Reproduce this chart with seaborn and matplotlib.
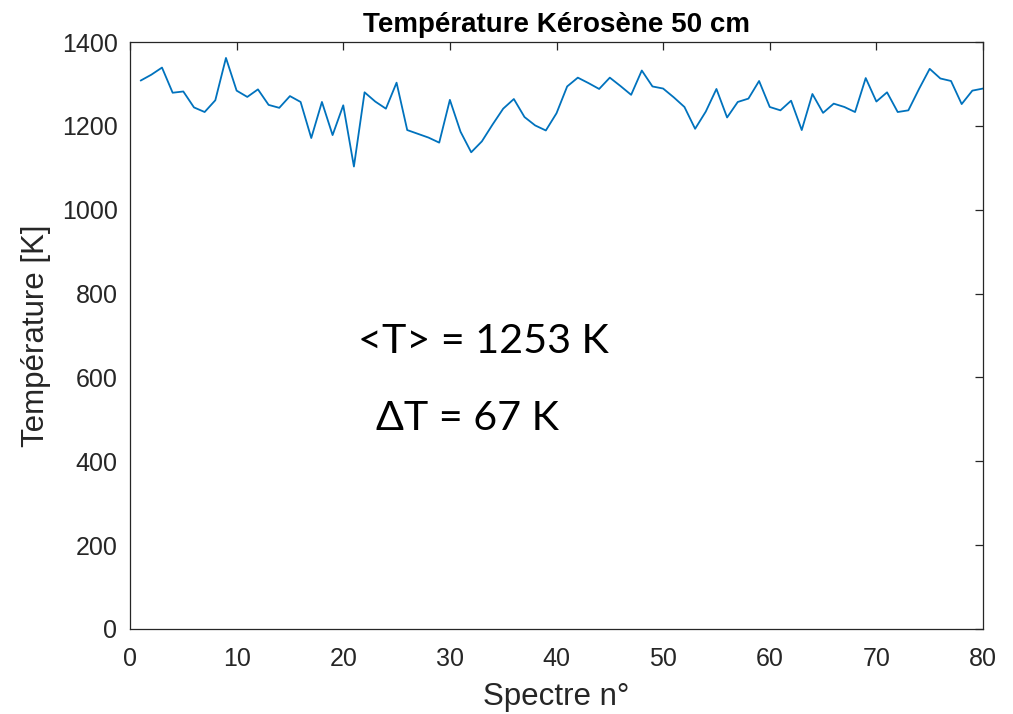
import matplotlib
matplotlib.use("Agg")
import matplotlib.pyplot as plt
import seaborn as sns
import pandas as pd
import numpy as np

spectre = list(range(1, 81))
temperature = [
    1308, 1322, 1339, 1279, 1282, 1244, 1233, 1261, 1362, 1284,
    1269, 1287, 1250, 1243, 1271, 1257, 1171, 1257, 1178, 1249,
    1103, 1280, 1258, 1241, 1303, 1190, 1181, 1172, 1160, 1262,
    1186, 1137, 1163, 1203, 1241, 1264, 1221, 1201, 1189, 1230,
    1294, 1315, 1302, 1288, 1315, 1295, 1274, 1332, 1294, 1289,
    1268, 1245, 1193, 1234, 1288, 1220, 1257, 1265, 1307, 1245,
    1237, 1260, 1190, 1276, 1231, 1253, 1245, 1233, 1314, 1258,
    1280, 1233, 1237, 1288, 1336, 1313, 1307, 1252, 1284, 1289,
]
xticks = [0, 10, 20, 30, 40, 50, 60, 70, 80]
yticks = [0, 200, 400, 600, 800, 1000, 1200, 1400]
title = "Température Kérosène 50 cm"
xlabel = "Spectre n°"
ylabel = "Température [K]"
ann_mean = "<T> = 1253 K"
ann_delta = "\u0394T = 67 K"

sns.set_style("white")
plt.rcParams['font.family'] = ['Liberation Sans', 'DejaVu Sans']

df = pd.DataFrame({"Spectre": spectre, "T": temperature})

fig = plt.figure(figsize=(10.13, 7.14), dpi=100)
ax = fig.add_axes([130/1013, 1 - 629/714, (983-130)/1013, (629-42)/714])
sns.lineplot(data=df, x="Spectre", y="T", ax=ax, color="#0072BD", linewidth=1.3)

ax.set_xlim(0, 80)
ax.set_ylim(0, 1400)
ax.set_xticks(xticks)
ax.set_yticks(yticks)
ax.tick_params(direction="in", length=6, width=0.9, colors="#262626",
               labelsize=18, top=True, right=True,
               labelcolor="#262626")
ax.tick_params(axis="x", pad=13)
ax.tick_params(axis="y", pad=9)
for s in ax.spines.values():
    s.set_color("#262626")
    s.set_linewidth(0.9)
ax.set_xlabel(xlabel, fontsize=22.5, color="#262626", labelpad=8)
ax.set_ylabel(ylabel, fontsize=22.5, color="#262626", labelpad=8)
ax.set_title(title, fontsize=20, fontweight="bold", color="black", pad=7)

ax.text(21.4, 659, ann_mean, fontsize=29.7, family=['Lato', 'DejaVu Sans'],
        color="black", va="baseline", ha="left")
ax.text(23.1, 475, ann_delta, fontsize=29.7, family=['Lato', 'DejaVu Sans'],
        color="black", va="baseline", ha="left")

fig.savefig("out.png", dpi=100)
